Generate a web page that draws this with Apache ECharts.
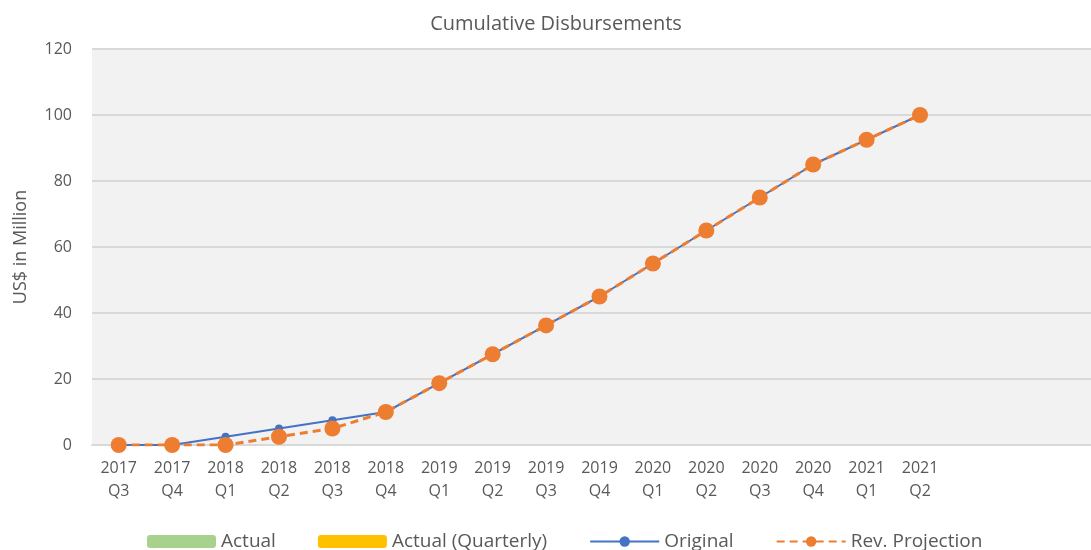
<!DOCTYPE html>
<html>
<head>
<meta charset="utf-8">
<script src="https://cdn.jsdelivr.net/npm/echarts@6/dist/echarts.min.js"></script>
<style>
  html, body { margin: 0; padding: 0; background: #fff; }
  #chart { width: 1091px; height: 550px; }
</style>
</head>
<body>
<div id="chart"></div>
<script>
const years = ['2017', '2017', '2018', '2018', '2018', '2018', '2019', '2019', '2019', '2019', '2020', '2020', '2020', '2020', '2021', '2021']
const quarters = ['Q3', 'Q4', 'Q1', 'Q2', 'Q3', 'Q4', 'Q1', 'Q2', 'Q3', 'Q4', 'Q1', 'Q2', 'Q3', 'Q4', 'Q1', 'Q2']
// empty slots after 2021 Q2, the plot area runs on past the last label
const blankSlots = ['', '', '']

const actual = []
const actualQuarterly = []
const original = [0, 0, 2.5, 5, 7.5, 10, 18.75, 27.5, 36.25, 45, 55, 65, 75, 85, 92.5, 100]
const revProjection = [0, 0, 0, 2.5, 5, 10, 18.75, 27.5, 36.25, 45, 55, 65, 75, 85, 92.5, 100]

const yTicks = { min: 0, max: 120, interval: 20 }

const categories = years.map((y, i) => y + '\n' + quarters[i]).concat(blankSlots)

const font = '"Open Sans", sans-serif'
const textColor = '#595959'
const gridColor = '#d9d9d9'

const chart = echarts.init(document.getElementById('chart'), null, { renderer: 'canvas' })

chart.setOption({
  animation: false,
  backgroundColor: '#ffffff',
  textStyle: { fontFamily: font },
  title: {
    text: 'Cumulative Disbursements',
    left: 551,
    top: 9,
    textAlign: 'center',
    textStyle: { fontFamily: font, fontSize: 20, fontWeight: 'normal', color: textColor }
  },
  grid: {
    left: 92,
    top: 49,
    width: 1015,
    height: 396,
    outerBoundsMode: 'none',
    show: true,
    backgroundColor: '#f2f2f2',
    borderWidth: 0
  },
  legend: {
    left: 142,
    top: 527,
    itemWidth: 69,
    itemHeight: 13,
    itemGap: 42,
    textStyle: { fontFamily: font, fontSize: 19, color: textColor },
    data: ['Actual', 'Actual (Quarterly)', 'Original', 'Rev. Projection']
  },
  xAxis: {
    type: 'category',
    data: categories,
    boundaryGap: true,
    axisTick: { show: false },
    axisLine: { lineStyle: { color: gridColor, width: 2 } },
    axisLabel: {
      interval: 0,
      color: textColor,
      fontFamily: font,
      fontSize: 16,
      lineHeight: 23,
      margin: 12
    }
  },
  yAxis: {
    type: 'value',
    min: yTicks.min,
    max: yTicks.max,
    interval: yTicks.interval,
    name: 'US$ in Million',
    nameLocation: 'middle',
    nameGap: 62,
    nameTextStyle: { fontFamily: font, fontSize: 18, color: textColor },
    axisLine: { show: false },
    axisTick: { show: false },
    axisLabel: { color: textColor, fontFamily: font, fontSize: 16, margin: 20 },
    splitLine: { lineStyle: { color: gridColor, width: 2 } }
  },
  series: [
    {
      name: 'Actual',
      type: 'bar',
      itemStyle: { color: '#a9d18e' },
      data: actual
    },
    {
      name: 'Actual (Quarterly)',
      type: 'bar',
      itemStyle: { color: '#ffc000' },
      data: actualQuarterly
    },
    {
      name: 'Original',
      type: 'line',
      symbol: 'circle',
      symbolSize: 8,
      lineStyle: { color: '#4472c4', width: 2 },
      itemStyle: { color: '#4472c4' },
      data: original
    },
    {
      name: 'Rev. Projection',
      type: 'line',
      symbol: 'circle',
      symbolSize: 16,
      lineStyle: { color: '#ed7d31', width: 3, type: [8, 5] },
      itemStyle: { color: '#ed7d31' },
      data: revProjection
    }
  ]
})
</script>
</body>
</html>
